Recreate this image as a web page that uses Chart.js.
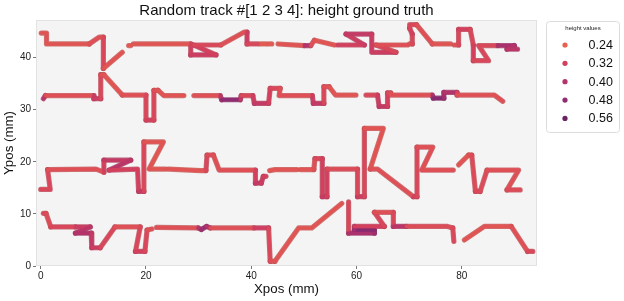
<!DOCTYPE html>
<html><head><meta charset="utf-8">
<script src="https://cdn.jsdelivr.net/npm/chart.js@4/dist/chart.umd.min.js"></script>
<style>html,body{margin:0;padding:0;background:#fff}#wrap{width:624px;height:301px;position:relative}</style>
</head><body><div id="wrap"><canvas id="c" width="624" height="301"></canvas></div>
<script>
const chartTitle = 'Random track #[1 2 3 4]: height ground truth';
const xTicks = [0, 20, 40, 60, 80];
const yTicks = [0, 10, 20, 30, 40];
const legendValues = [0.24, 0.32, 0.40, 0.48, 0.56];
const legendColors = ['#e8614d', '#d3405e', '#b3336b', '#902c72', '#6c2366'];

// each row: [Xpos, Ypos, height]; null = gap in the track
const track1 = [
  [0.1,44.7,.27],[1.1,44.7,.27],[1.1,42.6,.27],[9.2,42.6,.28],[11.1,43.9,.28],[11.9,43.9,.30],[11.9,37.9,.27],[15.5,41.0,.27],
  null,[16.7,42.3,.26],[17.1,42.3,.26],
  null,[17.6,42.6,.27],[28.5,42.6,.32],[28.5,40.5,.34],[33.3,40.5,.32],[29.1,42.4,.30],[34.2,42.4,.28],[38.7,44.9,.28],[39.2,44.9,.34],[39.2,42.6,.30],[41.3,42.6,.27],
  null,[41.8,42.6,.26],[42.8,42.6,.26],
  null,[43.3,42.6,.26],[43.9,42.6,.26],
  null,[45.1,42.6,.27],[50.1,42.3,.40],[51.3,42.3,.28],[52.0,43.3,.27],[55.8,42.4,.27],
  null,[56.4,42.4,.32],[61.5,42.4,.34],[58.0,44.5,.36],[62.9,44.5,.34],[62.9,41.0,.34],[67.5,41.0,.30],[63.7,42.4,.28],[69.7,42.4,.27],
  null,[70.1,42.6,.28],[70.6,42.6,.30],[70.6,44.5,.32],[70.1,45.6,.30],[70.1,46.3,.30],[71.4,46.3,.28],[74.4,42.6,.27],[77.9,42.6,.27],
  null,[78.6,42.4,.28],[79.4,42.4,.30],[79.4,45.4,.32],[81.6,45.4,.30],[82.2,42.4,.32],[82.2,39.4,.30],[85.1,39.4,.30],[83.2,42.3,.30],[86.8,42.3,.42],[90.0,42.3,.40],[88.6,41.6,.38],[90.6,41.6,.36]
];
const track2 = [
  [0.5,32.1,.38],[0.9,32.7,.28],[10.1,32.7,.36],[10.1,32.1,.34],[11.4,32.1,.30],[11.4,36.7,.28],[12.0,36.7,.27],[15.5,32.8,.28],[20.0,32.8,.30],[20.0,28.0,.32],[21.5,28.0,.30],[21.5,33.7,.28],[22.3,33.7,.27],[23.4,32.7,.27],[27.2,32.7,.27],
  null,[29.1,32.7,.28],[34.1,32.7,.38],[34.4,31.9,.48],[37.9,31.9,.36],[38.1,32.7,.30],[40.3,32.7,.34],[40.6,31.2,.36],[43.3,31.2,.32],[43.6,34.1,.30],[45.5,34.1,.28],[45.3,32.7,.28],[51.6,32.7,.34],[51.8,31.2,.36],[53.8,31.2,.30],[53.8,34.4,.28],[54.8,34.4,.27],[56.0,32.8,.27],[59.9,32.8,.27],
  null,[61.8,32.8,.30],[64.0,32.8,.34],[64.3,30.6,.36],[65.9,30.6,.32],[65.9,33.2,.30],[66.5,33.2,.28],[66.5,32.8,.28],[74.4,32.8,.42],[74.6,32.2,.50],[76.6,32.2,.44],[76.6,33.3,.40],[79.1,33.3,.30],[79.1,32.8,.28],[86.2,32.8,.28],[87.8,31.6,.28]
];
const track3 = [
  [0.0,14.7,.30],[1.8,14.7,.30],[1.3,18.5,.28],[10.5,18.6,.28],[12.0,18.0,.32],[12.0,20.3,.36],[17.1,20.3,.38],[13.0,18.4,.32],[18.4,18.6,.32],[18.6,14.3,.36],[19.6,14.3,.30],[19.6,23.8,.27],[23.3,23.8,.27],[20.6,18.6,.27],[23.8,18.6,.27],
  null,[24.3,18.6,.27],[30.4,18.3,.27],[31.4,18.3,.30],[31.6,21.3,.29],[32.8,21.3,.28],[33.9,18.4,.28],[40.8,18.4,.32],[40.8,15.9,.36],[41.9,15.9,.34],[42.3,17.2,.32],[42.8,17.2,.30],
  null,[43.5,18.3,.27],[44.5,18.5,.27],[48.7,18.5,.27],
  null,[49.3,18.5,.27],[51.9,18.5,.28],[52.1,20.6,.30],[53.5,20.6,.32],[53.5,13.3,.35],[54.4,13.3,.32],[54.4,18.6,.29],[60.2,18.6,.30],[60.2,13.3,.34],[61.5,13.3,.30],[61.5,26.4,.27],[65.1,26.4,.27],[62.6,18.6,.28],[64.0,18.6,.28],[70.8,13.3,.32],[71.5,13.3,.30],[71.5,22.8,.28],[74.5,22.8,.28],[72.4,18.4,.28],[78.4,18.4,.27],
  null,[79.4,19.4,.27],[81.3,21.3,.28],[81.9,21.3,.29],[82.6,14.3,.30],[83.5,14.3,.29],[84.8,18.4,.28],[90.8,18.4,.28],[88.6,14.6,.29],[91.1,14.6,.30]
];
const track4 = [
  [0.5,10.1,.30],[1.0,10.1,.29],[1.9,7.5,.30],[6.6,7.5,.34],[9.4,7.5,.38],[6.6,6.3,.40],[9.6,6.3,.36],[9.7,3.5,.34],[11.3,3.5,.30],[14.1,7.5,.28],[18.9,7.5,.30],[18.0,2.8,.32],[19.8,2.8,.30],[20.2,6.9,.28],[21.1,7.1,.27],
  null,[22.0,7.4,.28],[29.9,7.3,.40],[30.5,7.0,.46],[31.5,7.6,.40],[32.2,7.3,.28],[40.5,7.3,.33],[43.3,7.3,.30],[43.6,0.9,.28],[44.5,0.9,.27],[49.0,7.3,.27],[51.5,7.3,.27],[57.2,12.0,.27],
  null,[58.5,12.3,.30],[58.5,6.3,.42],[63.4,6.3,.46],[63.4,6.9,.50],[59.6,6.9,.44],[59.6,7.6,.32],[65.3,7.6,.30],[63.4,10.3,.28],[67.0,10.3,.30],[67.0,7.6,.38],[69.5,7.6,.29],[77.3,7.6,.29],[78.3,7.3,.30],[78.5,4.7,.30],
  null,[80.5,5.0,.27],[84.3,7.6,.27],[89.4,7.6,.28],[92.5,2.8,.30],[93.5,2.8,.32]
];
const tracks = [track1, track2, track3, track4];

function hexToRgb(h){ const n=parseInt(h.slice(1),16); return [(n>>16)&255,(n>>8)&255,n&255]; }
function rgbAt(h){
  const v = legendValues, c = legendColors.map(hexToRgb);
  if (h <= v[0]) return c[0];
  if (h >= v[v.length-1]) return c[c.length-1];
  let i = 0; while (h > v[i+1]) i++;
  const t = (h - v[i]) / (v[i+1] - v[i]);
  return c[i].map((a,k)=>Math.round(a + (c[i+1][k]-a)*t));
}
function colorAt(h){ return `rgb(${rgbAt(h).join(',')})`; }
function rimAt(h){ const r = rgbAt(h).map(a => Math.round(a*0.86)); return `rgba(${r.join(',')},0.75)`; }

function makeDataset(tr, ti, rim){
  const data = tr.map(r => r ? {x:r[0], y:r[1], h:r[2]} : {x:0, y:null, h:0});
  return {
    label: 'track ' + (ti+1) + (rim ? ' rim' : ''),
    data,
    showLine: true,
    spanGaps: false,
    pointRadius: 0,
    pointHoverRadius: 0,
    borderWidth: rim ? 5.2 : 3.6,
    borderCapStyle: 'round',
    borderJoinStyle: 'round',
    borderColor: rim ? rimAt(0.27) : colorAt(0.27),
    order: rim ? 2 : 1,
    segment: {
      borderColor: ctx => rim ? rimAt(data[ctx.p0DataIndex].h) : colorAt(data[ctx.p0DataIndex].h)
    }
  };
}
const datasets = [
  ...tracks.map((tr, ti) => makeDataset(tr, ti, true)),
  ...tracks.map((tr, ti) => makeDataset(tr, ti, false))
];

const bgPlugin = {
  id: 'plotBg',
  beforeDraw(chart){
    const {ctx, chartArea:a} = chart;
    ctx.save();
    ctx.fillStyle = '#f4f4f4';
    ctx.fillRect(a.left, a.top, a.right-a.left, a.bottom-a.top);
    ctx.strokeStyle = '#e2e2e2'; ctx.lineWidth = 1;
    ctx.strokeRect(a.left+0.5, a.top+0.5, a.right-a.left-1, a.bottom-a.top-1);
    ctx.restore();
  }
};

const legendPlugin = {
  id: 'heightLegend',
  afterDraw(chart){
    const ctx = chart.ctx;
    const L = 546.5, T = 21.5, W = 73, H = 111, R = 3;
    ctx.save();
    ctx.beginPath();
    ctx.moveTo(L+R, T); ctx.lineTo(L+W-R, T); ctx.arcTo(L+W, T, L+W, T+R, R);
    ctx.lineTo(L+W, T+H-R); ctx.arcTo(L+W, T+H, L+W-R, T+H, R);
    ctx.lineTo(L+R, T+H); ctx.arcTo(L, T+H, L, T+H-R, R);
    ctx.lineTo(L, T+R); ctx.arcTo(L, T, L+R, T, R); ctx.closePath();
    ctx.fillStyle = '#ffffff'; ctx.fill();
    ctx.strokeStyle = '#dcdcdc'; ctx.lineWidth = 1; ctx.stroke();
    ctx.fillStyle = '#222';
    ctx.font = '6px "Liberation Sans", Arial, sans-serif';
    ctx.textAlign = 'center'; ctx.textBaseline = 'middle';
    ctx.fillText('height values', L + W/2, 28.5);
    ctx.font = '12.5px "Liberation Sans", Arial, sans-serif';
    ctx.textAlign = 'left';
    legendValues.forEach((v, i) => {
      const y = 45 + i * 18.35;
      ctx.beginPath(); ctx.arc(565, y, 2.6, 0, Math.PI*2);
      ctx.fillStyle = legendColors[i]; ctx.fill();
      ctx.fillStyle = '#111';
      ctx.fillText(v.toFixed(2), 588.5, y + 0.5);
    });
    ctx.restore();
  }
};

const font = '"Liberation Sans", Arial, Helvetica, sans-serif';
Chart.defaults.font.family = font;

new Chart(document.getElementById('c'), {
  type: 'scatter',
  data: { datasets },
  options: {
    responsive: false,
    animation: false,
    devicePixelRatio: 1,
    layout: { padding: { left: 0, right: 87, top: 0, bottom: 0 } },
    plugins: {
      legend: { display: false },
      tooltip: { enabled: false },
      title: { display: true, text: chartTitle, fullSize: false, color: '#111',
               font: { size: 15, weight: 'normal' }, padding: { top: 2, bottom: 0 } }
    },
    scales: {
      x: {
        type: 'linear', min: -0.9, max: 94.3,
        afterBuildTicks: s => { s.ticks = xTicks.map(v => ({ value: v })); },
        afterFit: s => { s.height = 35; },
        ticks: { font: { size: 10 }, color: '#222', padding: 1, maxRotation: 0, autoSkip: false },
        grid: { drawOnChartArea: false, drawTicks: true, tickLength: 3, color: '#777' },
        border: { display: false },
        title: { display: true, text: 'Xpos (mm)', color: '#111', font: { size: 13.3 }, padding: { top: 0, bottom: 4 } }
      },
      y: {
        type: 'linear', min: 0, max: 47.2,
        afterBuildTicks: s => { s.ticks = yTicks.map(v => ({ value: v })); },
        afterFit: s => { s.width = 36; },
        ticks: { font: { size: 10 }, color: '#222', padding: 2, autoSkip: false },
        grid: { drawOnChartArea: false, drawTicks: true, tickLength: 3, color: '#777' },
        border: { display: false },
        title: { display: true, text: 'Ypos (mm)', color: '#111', font: { size: 13.3 }, padding: { top: 1, bottom: 0 } }
      }
    }
  },
  plugins: [bgPlugin, legendPlugin]
});
</script>
</body></html>
